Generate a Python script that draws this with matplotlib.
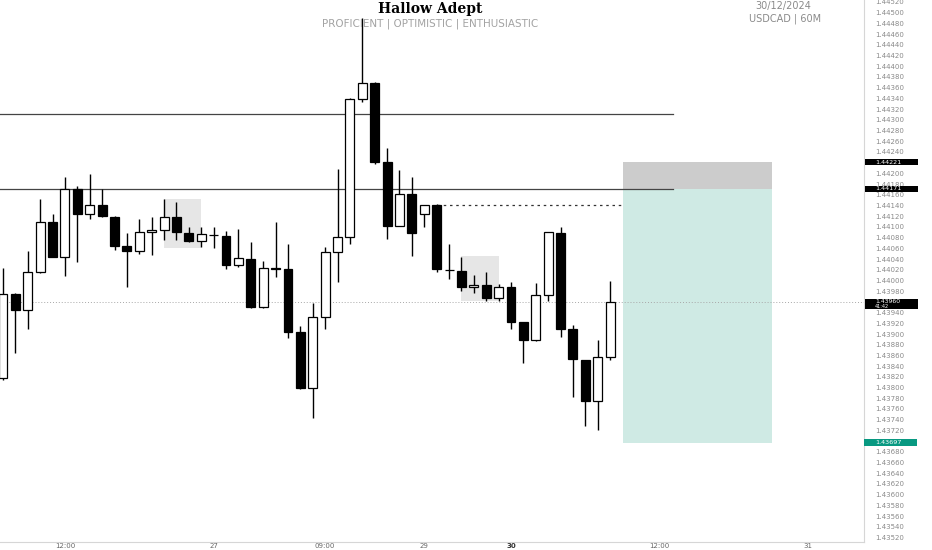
import matplotlib
matplotlib.use("Agg")
import matplotlib.pyplot as plt
from matplotlib.patches import Rectangle
from matplotlib.transforms import blended_transform_factory
import numpy as np

# ---------------- data ----------------
opens = [1.43818, 1.43975, 1.43945, 1.44015, 1.44109, 1.44044, 1.44171, 1.44124, 1.44140, 1.44119,
         1.44064, 1.44055, 1.44090, 1.44094, 1.44119, 1.44088, 1.44074, 1.44085, 1.44083, 1.44028,
         1.44040, 1.43950, 1.44023, 1.44021, 1.43904, 1.43800, 1.43932, 1.44053, 1.44082, 1.44338,
         1.44369, 1.44221, 1.44102, 1.44161, 1.44124, 1.44141, 1.44020, 1.44018, 1.43987, 1.43992,
         1.43967, 1.43988, 1.43922, 1.43888, 1.43973, 1.44089, 1.43909, 1.43851, 1.43775, 1.43857]
highs = [1.44023, 1.43976, 1.44055, 1.44152, 1.44124, 1.44193, 1.44177, 1.44198, 1.44171, 1.44120,
         1.44088, 1.44114, 1.44118, 1.44152, 1.44146, 1.44099, 1.44099, 1.44099, 1.44092, 1.44097,
         1.44071, 1.44036, 1.44110, 1.44068, 1.43915, 1.43958, 1.44062, 1.44209, 1.44340, 1.44490,
         1.44370, 1.44247, 1.44206, 1.44193, 1.44141, 1.44142, 1.44069, 1.44044, 1.44011, 1.44015,
         1.43993, 1.43998, 1.43923, 1.43995, 1.44091, 1.44099, 1.43917, 1.43852, 1.43888, 1.43999]
lows = [1.43814, 1.43865, 1.43909, 1.44013, 1.44043, 1.44009, 1.44034, 1.44115, 1.44118, 1.44057,
        1.43988, 1.44049, 1.44048, 1.44076, 1.44076, 1.44071, 1.44062, 1.44061, 1.44021, 1.44025,
        1.43949, 1.43949, 1.44007, 1.43893, 1.43797, 1.43743, 1.43909, 1.43997, 1.44069, 1.44333,
        1.44217, 1.44077, 1.44101, 1.44046, 1.44099, 1.44016, 1.44003, 1.43980, 1.43976, 1.43962,
        1.43962, 1.43909, 1.43846, 1.43887, 1.43962, 1.43895, 1.43783, 1.43728, 1.43721, 1.43851]
closes = [1.43975, 1.43945, 1.44016, 1.44110, 1.44044, 1.44171, 1.44125, 1.44141, 1.44121, 1.44065,
          1.44055, 1.44090, 1.44094, 1.44119, 1.44090, 1.44074, 1.44086, 1.44084, 1.44028, 1.44041,
          1.43950, 1.44024, 1.44022, 1.43904, 1.43800, 1.43932, 1.44053, 1.44082, 1.44338, 1.44368,
          1.44221, 1.44102, 1.44161, 1.44089, 1.44140, 1.44021, 1.44019, 1.43987, 1.43992, 1.43967,
          1.43988, 1.43923, 1.43888, 1.43973, 1.44090, 1.43909, 1.43853, 1.43775, 1.43857, 1.43960]

time_tick_pos = [5, 17, 26, 34, 41, 53, 65]
time_tick_labels = ["12:00", "27", "09:00", "29", "30", "12:00", "31"]

price_ticks = [round(1.43520 + 0.0002 * k, 5) for k in range(51)]

hline_levels = [1.44310, 1.44171]
hline_end = 54.07
dashed_level = 1.44141
dashed_span = (35, 50)

zone_boxes = [(13, 16, 1.44061, 1.44152), (37, 40, 1.43962, 1.44046)]

last_price = 1.43960
countdown = "41:42"
stop_price = 1.44221
entry_price = 1.44171
target_price = 1.43697
position_span = (50, 62.04)

title = "Hallow Adept"
subtitle = "PROFICIENT | OPTIMISTIC | ENTHUSIASTIC"
date_text = "30/12/2024"
symbol_text = "USDCAD | 60M"

# ---------------- figure ----------------
W, H = 932, 550
fig = plt.figure(figsize=(W / 100, H / 100), dpi=100)
fig.patch.set_facecolor("white")
ax = fig.add_axes([0, 8 / H, 864 / W, 542 / H])
ax.set_facecolor("white")
ax.set_xlim(-0.242, 69.49)
ax.set_ylim(1.435116, 1.445237)

for s in ["top", "left"]:
    ax.spines[s].set_visible(False)
ax.spines["right"].set_color("#d6d6d6")
ax.spines["bottom"].set_color("#d6d6d6")
ax.spines["right"].set_linewidth(0.8)
ax.spines["bottom"].set_linewidth(0.8)

# labels hidden behind the price boxes on the axis
boxed = {round(stop_price, 4), round(last_price, 4), round(target_price, 4)}
ax.yaxis.tick_right()
ax.set_yticks(price_ticks)
ax.set_yticklabels(["" if round(v, 4) in boxed else f"{v:.5f}" for v in price_ticks])
ax.tick_params(axis="y", length=0, pad=8, labelsize=5, labelcolor="#8a8a8a")
ax.set_xticks(time_tick_pos)
ax.set_xticklabels(time_tick_labels)
ax.tick_params(axis="x", length=0, pad=0.5, labelsize=5, labelcolor="#666666")
for lab in ax.get_xticklabels():
    if lab.get_text() == "30":
        lab.set_fontweight("bold")
        lab.set_color("#333333")

# zone boxes
for x0, x1, lo, hi in zone_boxes:
    ax.add_patch(Rectangle((x0, lo), x1 - x0, hi - lo, facecolor="#e6e6e6",
                           edgecolor="none", zorder=1))

# position tool
px0, px1 = position_span
ax.add_patch(Rectangle((px0, entry_price), px1 - px0, stop_price - entry_price,
                       facecolor="#cccccc", edgecolor="none", zorder=1))
ax.add_patch(Rectangle((px0, target_price), px1 - px0, entry_price - target_price,
                       facecolor="#cfeae4", edgecolor="none", zorder=1))

# horizontal lines
for lvl in hline_levels:
    ax.plot([-0.242, hline_end], [lvl, lvl], color="#444444", lw=0.9, zorder=2)
ax.plot(list(dashed_span), [dashed_level, dashed_level], color="#333333", lw=0.9,
        linestyle=(0, (2, 3)), zorder=2)
ax.axhline(last_price, color="#a8a8a8", lw=0.7, linestyle=(0, (1, 2)), zorder=2)

# candles
bw = 0.72
for i, (o, h, l, c) in enumerate(zip(opens, highs, lows, closes)):
    ax.plot([i, i], [l, h], color="black", lw=1.0, zorder=3, solid_capstyle="butt")
    fc = "white" if c >= o else "black"
    ax.add_patch(Rectangle((i - bw / 2, min(o, c)), bw, max(abs(c - o), 1e-6),
                           facecolor=fc, edgecolor="black", lw=0.9, zorder=4))

# price labels on axis
bt = blended_transform_factory(fig.transFigure, ax.transData)
ppx = (1.445237 - 1.435116) / 542.0  # price per pixel


def axis_box(price, color, top_px=3.3, bottom_px=3.3, x0=865, x1=918):
    top = price + top_px * ppx
    bot = price - bottom_px * ppx
    r = Rectangle((x0 / W, bot), (x1 - x0) / W, top - bot, facecolor=color,
                  edgecolor="none", transform=bt, clip_on=False, zorder=20)
    ax.add_patch(r)


def axis_text(price, txt, size=4.6):
    ax.text(875 / W, price, txt, transform=bt, fontsize=size, color="white",
            ha="left", va="center", zorder=21, clip_on=False)


axis_box(stop_price, "black")
axis_text(stop_price, f"{stop_price:.5f}")
axis_box(entry_price, "black")
axis_text(entry_price, f"{entry_price:.5f}")
axis_box(last_price, "black", top_px=3.0, bottom_px=7.5)
axis_text(last_price, f"{last_price:.5f}", size=4.4)
axis_text(last_price - 4.8 * ppx, countdown, size=3.6)
axis_box(target_price, "#089981", x0=864, x1=917)
axis_text(target_price, f"{target_price:.5f}")

# header texts
fig.text(430 / W, 1 - 9 / H, title, fontsize=10, fontweight="bold", family="DejaVu Serif",
         ha="center", va="center", color="black", zorder=30)
fig.text(430 / W, 1 - 23.5 / H, subtitle, fontsize=7.5, ha="center", va="center",
         color="#a3a3a3", zorder=30)
fig.text(783 / W, 1 - 6.5 / H, date_text, fontsize=7, ha="center", va="center",
         color="#8a8a8a", zorder=30)
fig.text(785 / W, 1 - 18.5 / H, symbol_text, fontsize=7, ha="center", va="center",
         color="#8a8a8a", zorder=30)

fig.savefig("out.png", dpi=100, facecolor="white")
